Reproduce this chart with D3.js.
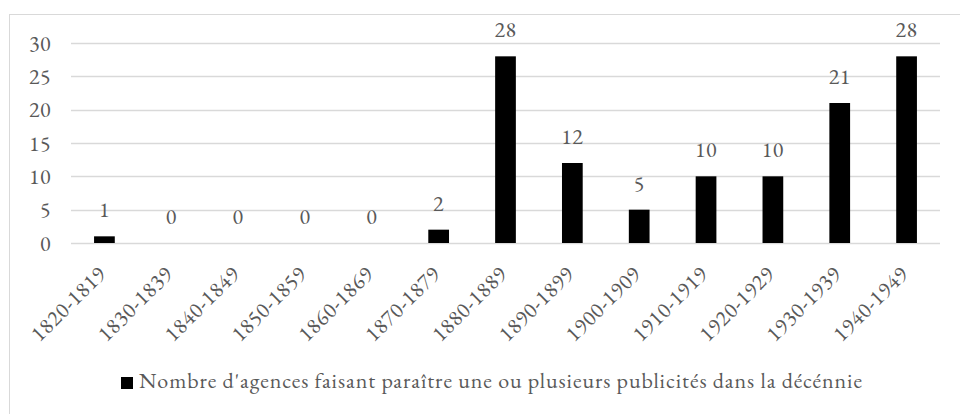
<!DOCTYPE html>
<html>
<head>
<meta charset="utf-8">
<script src="https://cdn.jsdelivr.net/npm/d3@7"></script>
<style>
  body { margin: 0; background: white; }
</style>
</head>
<body>
<div id="chart"></div>
<script>
// data
var decades = ["1820-1819", "1830-1839", "1840-1849", "1850-1859", "1860-1869", "1870-1879",
               "1880-1889", "1890-1899", "1900-1909", "1910-1919", "1920-1929", "1930-1939", "1940-1949"];
var agences = [1, 0, 0, 0, 0, 2, 28, 12, 5, 10, 10, 21, 28];
var yTicks = [0, 5, 10, 15, 20, 25, 30];
var legendLabel = "Nombre d'agences faisant paraître une ou plusieurs publicités dans la décénnie";

var FONT = "EB Garamond";
var FS = "22px";
var W = 960, H = 414;
var margin = {top: 43, left: 71},
    width = 940 - margin.left,
    height = 243 - margin.top;

var svg = d3.select("#chart").append("svg")
    .attr("width", W)
    .attr("height", H)
    .style("background-color", "white");

// outer chart border (runs off the right and bottom of the picture)
svg.append("rect")
    .attr("x", 9.5).attr("y", 14.5)
    .attr("width", W + 20).attr("height", H + 20)
    .attr("fill", "none")
    .attr("stroke", "#d9d9d9");

var g = svg.append("g")
    .attr("transform", "translate(" + margin.left + "," + margin.top + ")");

var x = d3.scaleBand().domain(decades).range([0, width]).paddingInner(0.69).paddingOuter(0.345);
var y = d3.scaleLinear().domain([0, 30]).range([height, 0]);

// gridlines
g.selectAll(".grid")
    .data(yTicks)
    .enter().append("line")
    .attr("x1", 0).attr("x2", width)
    .attr("y1", function(d) { return Math.round(y(d)) + 0.5; })
    .attr("y2", function(d) { return Math.round(y(d)) + 0.5; })
    .attr("stroke", "#d9d9d9")
    .attr("stroke-width", 1.3);

// Y axis labels
var yAxis = g.append("g")
    .call(d3.axisLeft(y).tickValues(yTicks).tickSize(0).tickPadding(20));
yAxis.attr("font-family", FONT).attr("font-size", FS);
yAxis.select(".domain").remove();
yAxis.selectAll("text")
    .attr("fill", "#595959")
    .attr("letter-spacing", 0.5);

// X axis labels, turned 45 degrees
var xAxis = g.append("g")
    .attr("transform", "translate(0," + height + ")")
    .call(d3.axisBottom(x).tickSize(0));
xAxis.attr("font-family", FONT).attr("font-size", FS);
xAxis.select(".domain").remove();
xAxis.selectAll("text")
    .attr("fill", "#595959")
    .attr("text-anchor", "end")
    .attr("letter-spacing", 0.6)
    .attr("y", 0)
    .attr("dy", 0)
    .attr("transform", "translate(3,32) rotate(-45)");

// bars
g.selectAll(".bar")
    .data(agences)
    .enter().append("rect")
    .attr("x", function(d, i) { return x(decades[i]); })
    .attr("y", function(d) { return y(d); })
    .attr("width", x.bandwidth())
    .attr("height", function(d) { return height - y(d); })
    .attr("fill", "#000000");

// value labels
g.selectAll(".lbl")
    .data(agences)
    .enter().append("text")
    .attr("x", function(d, i) { return x(decades[i]) + x.bandwidth() / 2; })
    .attr("y", function(d) { return y(d) - 19; })
    .attr("text-anchor", "middle")
    .attr("fill", "#595959")
    .attr("font-family", FONT)
    .attr("font-size", FS)
    .attr("letter-spacing", 0.5)
    .text(function(d) { return d; });

// legend
svg.append("rect")
    .attr("x", 121).attr("y", 377)
    .attr("width", 12).attr("height", 12)
    .attr("fill", "#000000");
svg.append("text")
    .attr("x", 139).attr("y", 388)
    .attr("fill", "#595959")
    .attr("font-family", FONT)
    .attr("font-size", FS)
    .attr("textLength", 723)
    .attr("lengthAdjust", "spacing")
    .text(legendLabel);
</script>
</body>
</html>
